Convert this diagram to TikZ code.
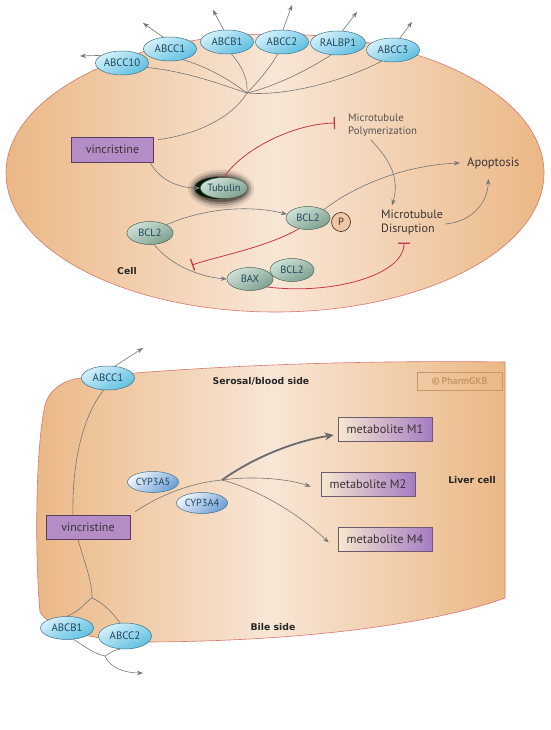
\documentclass[tikz,border=0pt]{standalone}
\usepackage{fontspec}
\setmainfont{PT Sans}
\newfontfamily\handfont{DejaVu Sans}
\usetikzlibrary{arrows.meta,shapes.geometric}
\definecolor{cellor}{HTML}{EBB886}
\definecolor{celllt}{HTML}{F8E6D6}
\definecolor{cellbd}{HTML}{D8776E}
\definecolor{arr}{HTML}{767676}
\definecolor{inh}{HTML}{C7364F}
\definecolor{protlt}{HTML}{D4F1FB}
\definecolor{protdk}{HTML}{5EBFE0}
\definecolor{protbd}{HTML}{3F6F88}
\definecolor{protxt}{HTML}{22465A}
\definecolor{bcllt}{HTML}{CFE2D8}
\definecolor{bcldk}{HTML}{7EA08F}
\definecolor{bclbd}{HTML}{4B6659}
\definecolor{vinccol}{HTML}{B58DC6}
\definecolor{vincbd}{HTML}{5A3C63}
\definecolor{metlt}{HTML}{F6E8CF}
\definecolor{metdk}{HTML}{A57CC3}
\definecolor{metbd}{HTML}{6E5A6E}
\definecolor{cyplt}{HTML}{EEF5FB}
\definecolor{cypdk}{HTML}{6E9FD6}
\definecolor{txt}{HTML}{3A3434}
\definecolor{pcol}{HTML}{EFC6A6}
\definecolor{wmk}{HTML}{C8976A}
\tikzset{
 prot/.style={ellipse, draw=protbd, line width=0.5pt, top color=protlt, bottom color=protdk, shading angle=30,
   minimum width=53pt, minimum height=24pt, inner sep=0pt, text=protxt, font=\fontsize{10.8}{11}\selectfont},
 bcl/.style={ellipse, draw=bclbd, line width=0.5pt, top color=bcllt, bottom color=bcldk, shading angle=30,
   minimum width=46pt, minimum height=23pt, inner sep=0pt, text=protxt, font=\fontsize{10.5}{11}\selectfont},
 cyp/.style={ellipse, draw=protbd, line width=0.5pt, top color=cyplt, bottom color=cypdk, shading angle=40,
   minimum width=51pt, minimum height=21pt, inner sep=0pt, text=protxt, font=\fontsize{10.3}{11}\selectfont},
 vincbox/.style={rectangle, draw=vincbd, line width=0.7pt, fill=vinccol, minimum width=82pt, minimum height=25pt,
   inner sep=0pt, text=txt, font=\fontsize{12}{13}\selectfont},
 metbox/.style={rectangle, draw=metbd, line width=0.6pt, left color=metlt, right color=metdk, minimum width=94pt,
   minimum height=24pt, inner sep=0pt, text=txt, font=\fontsize{12.3}{13}\selectfont},
 lbl/.style={text=txt, inner sep=0pt, font=\fontsize{12}{14}\selectfont},
 slbl/.style={text=txt!85, inner sep=0pt, font=\fontsize{10.8}{13}\selectfont},
 blbl/.style={text=black!85, inner sep=0pt, font=\handfont\bfseries\fontsize{9.3}{11}\selectfont},
 arw/.style={draw=arr, line width=0.6pt, -{Stealth[length=6pt,width=4.5pt]}},
 tharw/.style={draw=arr!90!black, line width=1.8pt, -{Stealth[length=9pt,width=8pt]}},
 ln/.style={draw=arr, line width=0.6pt},
 inhb/.style={draw=inh, line width=0.8pt, -{Bar[width=12pt,line width=1.3pt]}},
}
\begin{document}
\begin{tikzpicture}[x=1pt,y=-1pt]
\useasboundingbox (0,0) rectangle (550,730);
% ---------- top cell ----------
\path[draw=cellbd, line width=0.6pt, left color=cellor, right color=cellor, middle color=celllt]
  (275,173) ellipse [x radius=269, y radius=139];

\node[prot] (abcc10) at (122,63) {ABCC10};
\node[prot] (abcc1) at (170,49) {ABCC1};
\node[prot] (abcb1) at (227,42) {ABCB1};
\node[prot] (abcc2) at (282,42) {ABCC2};
\node[prot, minimum width=55pt] (ralbp1) at (338,43) {RALBP1};
\node[prot] (abcc3) at (393,50) {ABCC3};

\coordinate (o1) at (80,56);
\coordinate (o2) at (143,23);
\coordinate (o3) at (213,10);
\coordinate (o4) at (292,5);
\coordinate (o5) at (357,12);
\coordinate (o6) at (412,22);
\draw[arw] (abcc10.160) -- (o1);
\draw[arw] (abcc1.120) -- (o2);
\draw[arw] (abcb1.105) -- (o3);
\draw[arw] (abcc2.85) -- (o4);
\draw[arw] (ralbp1.70) -- (o5);
\draw[arw] (abcc3.60) -- (o6);

\node[vincbox] (vinc) at (112.5,149.5) {vincristine};

\coordinate (hub) at (247,93);
\draw[ln] (abcc10.-10) .. controls (190,72) and (225,86) .. (hub);
\draw[ln] (abcc1.-40) .. controls (212,68) and (235,84) .. (hub);
\draw[ln] (abcb1.-70) .. controls (244,68) and (248,82) .. (hub);
\draw[ln] (abcc2.-110) .. controls (270,68) and (256,84) .. (hub);
\draw[ln] (ralbp1.-120) .. controls (305,72) and (270,88) .. (hub);
\draw[ln] (abcc3.-135) .. controls (335,85) and (280,96) .. (hub);
\draw[ln] (hub) .. controls (232,118) and (195,135) .. ([xshift=4pt,yshift=-3pt]vinc.north east);

% tubulin with glow
\foreach \k/\o in {9/0.10, 6.5/0.15, 4.5/0.22, 2.5/0.32}
  \fill[black, opacity=\o] (221,189) ellipse [x radius=24+\k, y radius=10.5+\k];
\fill[black!80!green!50!black] (219,188) ellipse [x radius=24.5, y radius=11];
\node[bcl, minimum width=47pt, minimum height=21pt] (tub) at (224,188) {Tubulin};

\node[slbl, anchor=west, align=left] (poly) at (348,125) {Microtubule\\Polymerization};
\node[lbl, anchor=west, align=left] (disr) at (381,222) {Microtubule\\Disruption};
\node[lbl, anchor=west, font=\fontsize{12.5}{13}\selectfont] (apop) at (467,163) {Apoptosis};

\draw[arw] ([xshift=-4pt]vinc.south east) .. controls (160,180) and (178,188) .. (tub.west);
\draw[inhb] (tub.north) .. controls (240,152) and (290,124) .. ([xshift=-13pt,yshift=2pt]poly.west);
\draw[arw] ([xshift=-12pt,yshift=-3pt]poly.south) .. controls (390,160) and (400,178) .. ([xshift=-20pt,yshift=4pt]disr.north);

\node[bcl] (bcla) at (150,233) {BCL2};
\node[bcl, minimum width=44pt] (bclp) at (308,218) {BCL2};
\node[circle, draw=black!70!brown, line width=0.6pt, fill=pcol, minimum size=19pt, inner sep=0pt,
  text=txt, font=\fontsize{10.5}{11}\selectfont] (pp) at (341,222) {P};
\node[bcl, minimum width=44pt] (bclb) at (292,270) {BCL2};
\node[bcl] (bax) at (250,279) {BAX};

\draw[arw] (bclp.north east) .. controls (360,182) and (410,165) .. ([xshift=-7pt]apop.west);
\draw[arw] ([xshift=2pt,yshift=-2pt]disr.east) .. controls (472,222) and (488,202) .. ([xshift=-5pt,yshift=-10pt]apop.south);
\draw[arw] (bcla.north east) .. controls (210,206) and (255,206) .. (bclp.170);
\draw[arw] (bcla.-70) .. controls (170,265) and (200,277) .. (bax.west);
\coordinate (barpt) at (192,265);
\draw[inhb] (bclp.-130) .. controls (265,248) and (218,256) .. (barpt);
\draw[inhb] (bax.-25) .. controls (330,295) and (404,276) .. ([xshift=-8pt,yshift=-8pt]disr.south);

\node[blbl] (celltxt) at (127,271) {Cell};

% ---------- liver cell ----------
\path[draw=cellbd, line width=0.6pt, left color=cellor, right color=cellor, middle color=celllt]
  (80,378) .. controls (200,366) and (350,360) .. (505,362)
  -- (505,598)
  .. controls (430,625) and (300,641) .. (150,642)
  .. controls (100,641) and (52,632) .. (40,612)
  .. controls (35,560) and (35,450) .. (45,405)
  .. controls (50,388) and (65,380) .. (80,378) -- cycle;

\node[blbl] (serosal) at (261,381) {Serosal/blood side};
\node[blbl] (liver) at (472,480) {Liver cell};
\node[blbl] (bile) at (273,627) {Bile side};
\node[draw=wmk, line width=0.9pt, minimum width=85pt, minimum height=18pt, inner sep=0pt, text=wmk,
  font=\bfseries\fontsize{10}{11}\selectfont] (pgkb) at (459.5,381) {\textcopyright\,PharmGKB};

\node[prot] (abcc1b) at (108,378) {ABCC1};
\node[vincbox, minimum width=84pt, minimum height=24pt] (vincb) at (88,527) {vincristine};
\node[metbox] (m1) at (385,429) {metabolite M1};
\node[metbox] (m2) at (368,484.5) {metabolite M2};
\node[metbox] (m4) at (385,539.5) {metabolite M4};

\coordinate (ob1) at (143,348);
\draw[arw] (abcc1b.60) -- (ob1);
\draw[ln] ([xshift=-15pt]vincb.north) .. controls (72,470) and (80,420) .. (abcc1b.-110);

\coordinate (hubb) at (222,480);
\draw[ln] ([xshift=5pt,yshift=3pt]vincb.north east) .. controls (160,495) and (190,483) .. (hubb);
\node[cyp] (cyp5) at (153,482) {CYP3A5};
\node[cyp] (cyp4) at (202,503) {CYP3A4};
\draw[tharw] (hubb) .. controls (250,460) and (290,442) .. ([xshift=-4pt,yshift=-6pt]m1.west);
\draw[arw] (hubb) .. controls (250,476) and (285,478) .. ([xshift=-10pt,yshift=-2pt]m2.west);
\draw[arw] (hubb) .. controls (260,490) and (300,515) .. ([xshift=-9pt,yshift=-3pt]m4.west);

\node[prot, minimum height=23pt] (abcb1b) at (67,628) {ABCB1};
\node[prot, minimum height=26pt] (abcc2b) at (125,636) {ABCC2};
\coordinate (hubc) at (92,598);
\coordinate (hubd) at (105,656);
\coordinate (ob2) at (143,673);
\draw[ln] ([xshift=-10pt]vincb.south) .. controls (85,565) and (92,580) .. (hubc);
\draw[ln] (hubc) .. controls (85,602) and (82,610) .. (abcb1b.north);
\draw[ln] (hubc) .. controls (102,602) and (112,612) .. (abcc2b.110);
\draw[ln] (abcb1b.-60) .. controls (87,648) and (95,654) .. (hubd);
\draw[ln] (abcc2b.-110) .. controls (113,650) and (109,654) .. (hubd);
\draw[arw] (hubd) .. controls (110,668) and (125,673) .. (ob2);
\end{tikzpicture}
\end{document}
